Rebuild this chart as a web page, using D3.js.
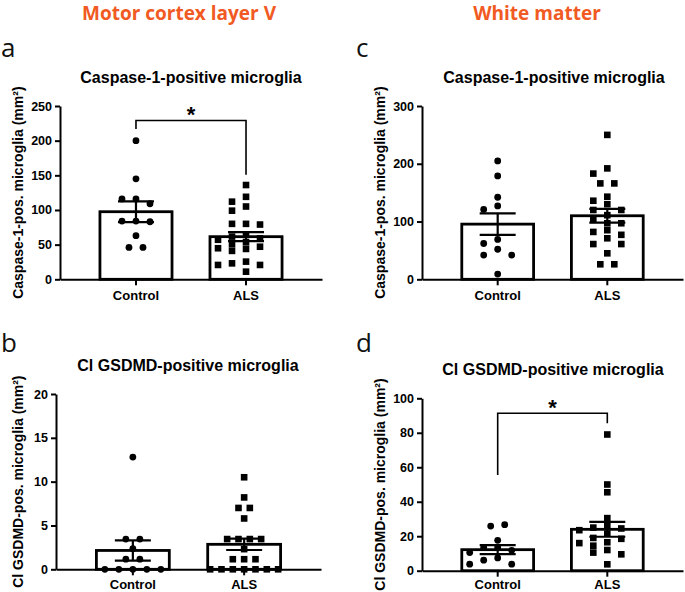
<!DOCTYPE html>
<html><head><meta charset="utf-8">
<script src="https://cdn.jsdelivr.net/npm/d3@7"></script>
<style>body{margin:0;background:#fff}svg{display:block}</style>
</head><body><svg id="chart" width="685" height="592"></svg>
<script>
// ---------- data ----------
const categories = ["Control", "ALS"];
const sectionTitles = ["Motor cortex layer V", "White matter"];
const panelLetters = ["a", "b", "c", "d"];
const panelTitles = ["Caspase-1-positive microglia", "Cl GSDMD-positive microglia",
                     "Caspase-1-positive microglia", "Cl GSDMD-positive microglia"];
const yLabels = ["Caspase-1-pos. microglia (mm\u00B2)", "Cl GSDMD-pos. microglia (mm\u00B2)",
                 "Caspase-1-pos. microglia (mm\u00B2)", "Cl GSDMD-pos. microglia (mm\u00B2)"];

// panel a: motor cortex, caspase-1
const aTicks = [0, 50, 100, 150, 200, 250];
const aControl = [200, 145, 116, 116, 109, 84, 84, 83, 63, 46, 46];
const aALS = [136, 119, 112, 105, 99, 80, 80, 79, 64, 61.6, 59, 57, 53.5, 50.6, 47, 44.8, 43.8, 41, 25.5, 23, 20.7, 20.7, 11];
const aMean = [97.5, 61.5];
const aSem = [15, 6.5];
const aBracket = [229, 217, 151]; // top, left end, right end

// panel b: motor cortex, cleaved GSDMD
const bTicks = [0, 5, 10, 15, 20];
const bControl = [12.8, 3.45, 3.45, 2.35, 1.15, 1.15, 0, 0, 0, 0, 0];
const bALS = [10.5, 8.2, 7.0, 7.0, 5.8, 3.45, 3.45, 3.45, 3.45, 2.3, 1.15, 1.15, 1.15, 0, 0, 0, 0, 0, 0, 0];
const bMean = [2.15, 2.85];
const bSem = [1.15, 0.65];

// panel c: white matter, caspase-1
const cTicks = [0, 100, 200, 300];
const cControl = [205, 179, 142, 127, 121, 69, 62, 52, 42, 42, 9];
const cALS = [250, 192, 183, 166, 166, 143, 136, 130, 120, 120, 111, 103, 97, 97, 85, 82, 77, 71, 61, 61, 45, 26, 26];
const cMean = [95.5, 110];
const cSem = [18.7, 12];

// panel d: white matter, cleaved GSDMD
const dTicks = [0, 20, 40, 60, 80, 100];
const dControl = [26.7, 25.9, 17.6, 13.5, 13.4, 11.8, 10.5, 7.4, 6.1, 3.8, 3.8];
const dALS = [79, 50, 45.5, 30.5, 26.5, 25, 24.5, 23.5, 21.5, 19, 18.5, 16.5, 16, 14.5, 12, 10.5, 9.5, 3.7];
const dMean = [12.2, 24];
const dSem = [2.6, 4.3];
const dBracket = [91.3, 55.5, 85.5];

// ---------- layout ----------
const FONT = "'Liberation Sans', Arial, Helvetica, sans-serif";
const panels = [
  {letter: panelLetters[0], title: panelTitles[0], ylab: yLabels[0], ticks: aTicks, groups: [aControl, aALS], mean: aMean, sem: aSem, bracket: aBracket,
   x0: 60, x1: 322, yTop: 106, yBot: 279.3, titleX: 191, titleY: 83, ylabX: 23, letX: 1, letY: 57, xlabOff: 20.3},
  {letter: panelLetters[1], title: panelTitles[1], ylab: yLabels[1], ticks: bTicks, groups: [bControl, bALS], mean: bMean, sem: bSem, bracket: null,
   x0: 56, x1: 321, yTop: 394, yBot: 569.3, titleX: 188, titleY: 371, ylabX: 23, letX: 1, letY: 352, xlabOff: 19.5},
  {letter: panelLetters[2], title: panelTitles[2], ylab: yLabels[2], ticks: cTicks, groups: [cControl, cALS], mean: cMean, sem: cSem, bracket: null,
   x0: 422, x1: 683, yTop: 106, yBot: 279.3, titleX: 554, titleY: 83, ylabX: 385, letX: 356, letY: 57, xlabOff: 20.3},
  {letter: panelLetters[3], title: panelTitles[3], ylab: yLabels[3], ticks: dTicks, groups: [dControl, dALS], mean: dMean, sem: dSem, bracket: dBracket,
   x0: 422, x1: 683, yTop: 398.3, yBot: 570.7, titleX: 553, titleY: 375, ylabX: 385, letX: 356, letY: 352, xlabOff: 18.2}
];

const svg = d3.select("#chart");

// section headers
svg.selectAll("text.sec").data(sectionTitles).join("text")
  .attr("class", "sec")
  .attr("x", (d, i) => i === 0 ? 179 : 537)
  .attr("y", 19.5)
  .attr("text-anchor", "middle")
  .attr("font-family", "'Open Sans', 'Noto Sans', sans-serif")
  .attr("font-weight", 700)
  .attr("font-size", 19)
  .attr("fill", "#f15a22")
  .text(d => d);

// beeswarm offsets (in slot units)
function swarm(vals, y, gap) {
  const pts = vals.map(v => ({v, py: y(v)})).sort((a, b) => a.py - b.py);
  const order = [0, -1, 1, -2, 2, -3, 3, -4, 4, -5, 5];
  const placed = [];
  for (const p of pts) {
    for (const k of order) {
      if (!placed.some(q => q.k === k && Math.abs(q.py - p.py) < gap)) { p.k = k; break; }
    }
    placed.push(p);
  }
  const clusters = [];
  let cur = [];
  pts.forEach((p, i) => {
    if (i > 0 && p.py - pts[i - 1].py >= gap) { clusters.push(cur); cur = []; }
    cur.push(p);
  });
  if (cur.length) clusters.push(cur);
  clusters.forEach(c => {
    if (c[c.length - 1].py - c[0].py < 1.5) {
      const m = d3.mean(c, d => d.k);
      c.forEach(d => d.k -= m);
    }
  });
  return pts;
}

panels.forEach(p => {
  const g = svg.append("g");
  const y = d3.scaleLinear().domain([0, d3.max(p.ticks)]).range([p.yBot, p.yTop]);
  const x = d3.scaleBand().domain(categories).range([p.x0, p.x1]).paddingInner(0.345).paddingOuter(0.363);
  const cx = c => x(c) + x.bandwidth() / 2;

  // panel letter
  g.append("text").attr("x", p.letX).attr("y", p.letY)
    .attr("font-family", "'Open Sans', 'Noto Sans', sans-serif").attr("font-size", 26).attr("fill", "#111")
    .text(p.letter);
  // title
  g.append("text").attr("x", p.titleX).attr("y", p.titleY).attr("text-anchor", "middle")
    .attr("font-family", FONT).attr("font-weight", 700).attr("font-size", 16).attr("fill", "#000")
    .text(p.title);
  // y label
  g.append("text")
    .attr("transform", `translate(${p.ylabX},${(p.yTop + p.yBot) / 2}) rotate(-90)`)
    .attr("text-anchor", "middle")
    .attr("font-family", FONT).attr("font-weight", 700).attr("font-size", 14).attr("fill", "#000")
    .text(p.ylab);

  // bars
  g.selectAll("rect.bar").data(p.mean).join("rect").attr("class", "bar")
    .attr("x", (d, i) => x(categories[i])).attr("width", x.bandwidth())
    .attr("y", d => y(d)).attr("height", d => y(0) - y(d))
    .attr("fill", "#fff").attr("stroke", "#000").attr("stroke-width", 2.8);

  // points
  p.groups.forEach((vals, gi) => {
    const pts = swarm(vals, y, 6.6);
    const maxK = d3.max(pts, d => Math.abs(d.k)) || 1;
    const sp = Math.min(14, 34 / maxK);
    const c0 = cx(categories[gi]);
    if (gi === 0) {
      g.selectAll(null).data(pts).join("circle")
        .attr("cx", d => c0 + d.k * sp).attr("cy", d => d.py).attr("r", 3.4).attr("fill", "#000");
    } else {
      g.selectAll(null).data(pts).join("rect")
        .attr("x", d => c0 + d.k * sp - 3.3).attr("y", d => d.py - 3.3)
        .attr("width", 6.6).attr("height", 6.6).attr("fill", "#000");
    }
  });

  // error bars
  p.mean.forEach((m, i) => {
    const c0 = cx(categories[i]);
    const lo = y(m - p.sem[i]), hi = y(m + p.sem[i]);
    g.append("line").attr("x1", c0).attr("x2", c0).attr("y1", lo).attr("y2", hi)
      .attr("stroke", "#000").attr("stroke-width", 2.2);
    [lo, hi].forEach(yy => g.append("line").attr("x1", c0 - 18).attr("x2", c0 + 18).attr("y1", yy).attr("y2", yy)
      .attr("stroke", "#000").attr("stroke-width", 2.2));
  });

  // axes
  const ya = g.append("g").attr("transform", `translate(${p.x0},0)`)
    .call(d3.axisLeft(y).tickValues(p.ticks).tickSize(5).tickSizeOuter(0).tickPadding(3).tickFormat(d3.format("d")));
  const xa = g.append("g").attr("transform", `translate(0,${p.yBot})`)
    .call(d3.axisBottom(x).tickSize(6).tickSizeOuter(0));
  [ya, xa].forEach(a => {
    a.select(".domain").attr("stroke", "#000").attr("stroke-width", 2);
    a.selectAll(".tick line").attr("stroke", "#000").attr("stroke-width", 2);
    a.selectAll(".tick text").attr("font-family", FONT).attr("font-weight", 700).attr("fill", "#000");
  });
  ya.selectAll(".tick text").attr("font-size", 12.5);
  xa.selectAll(".tick text").attr("font-size", 13).attr("y", p.xlabOff).attr("dy", 0);

  // significance bracket
  if (p.bracket) {
    const [top, l, r] = p.bracket;
    const xl = cx(categories[0]), xr = cx(categories[1]);
    g.append("path")
      .attr("d", `M${xl},${y(l)}V${y(top)}H${xr}V${y(r)}`)
      .attr("fill", "none").attr("stroke", "#000").attr("stroke-width", 1.6);
    g.append("text").attr("x", (xl + xr) / 2).attr("y", y(top) + 1.5).attr("text-anchor", "middle")
      .attr("font-family", FONT).attr("font-weight", 700).attr("font-size", 22).attr("fill", "#000")
      .text("*");
  }
});
</script>
</body></html>
